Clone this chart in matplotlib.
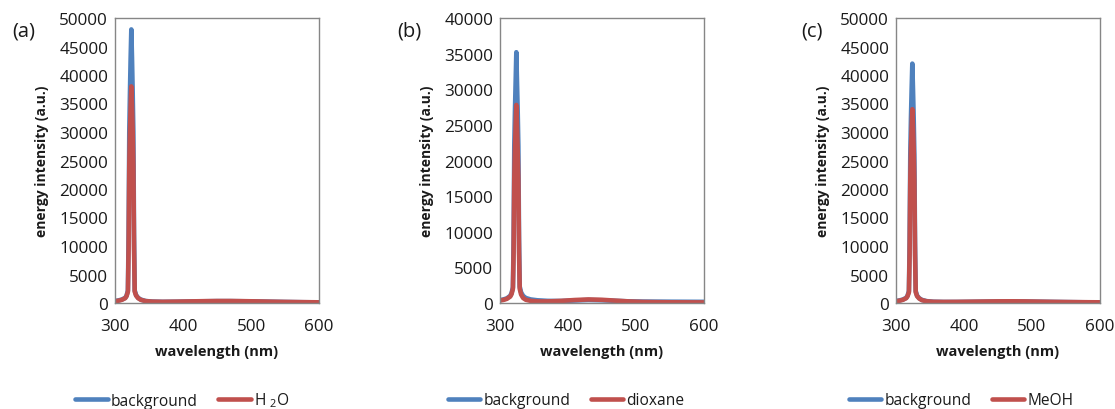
import matplotlib
matplotlib.use("Agg")
import matplotlib.pyplot as plt
from matplotlib.ticker import MultipleLocator

plt.rcParams["font.family"] = ["Open Sans", "DejaVu Sans"]
plt.rcParams["mathtext.fontset"] = "custom"
plt.rcParams["mathtext.rm"] = "Open Sans"
plt.rcParams["mathtext.it"] = "Open Sans"

# Wavelength grid (nm), shared by every spectrum
wavelength = [300, 305, 310, 315, 317, 319, 320, 321, 322, 323, 324, 325, 326,
              327, 328, 329, 331, 334, 338, 345, 355, 370, 390, 410, 430, 450,
              470, 490, 510, 530, 550, 575, 600]

# (a) background vs. water
bg_a = [350, 450, 600, 900, 1300, 2200, 12000, 30000, 37000, 43000, 48000, 43000, 37000,
        30000, 12000, 2200, 1400, 900, 600, 350, 250, 200, 220, 260, 300, 330,
        330, 300, 260, 220, 180, 140, 110]
h2o = [300, 400, 550, 850, 1200, 2000, 9500, 24000, 30000, 34500, 38000, 34500, 30000,
       24000, 9500, 2000, 1300, 850, 550, 330, 240, 210, 240, 280, 320, 350,
       350, 320, 280, 230, 190, 150, 120]

# (b) background vs. dioxane
bg_b = [400, 500, 650, 1000, 1400, 2200, 9000, 22000, 27000, 31000, 35200, 31000, 27000,
        22000, 9000, 2300, 1500, 1000, 700, 500, 380, 300, 280, 350, 420, 380,
        300, 230, 200, 190, 180, 170, 160]
dioxane = [350, 430, 580, 900, 1250, 2000, 7000, 17500, 21500, 24800, 27800, 24800, 21500,
           17500, 7000, 2000, 1200, 700, 450, 300, 220, 220, 300, 420, 500, 450,
           330, 220, 150, 120, 100, 90, 80]

# (c) background vs. methanol
bg_c = [350, 450, 600, 900, 1300, 2100, 10500, 26000, 32500, 37500, 42000, 37500, 32500,
        26000, 10500, 2100, 1300, 850, 550, 330, 220, 180, 180, 200, 230, 260,
        270, 250, 220, 190, 160, 130, 110]
meoh = [300, 400, 550, 850, 1200, 1900, 8500, 21500, 27000, 30800, 34000, 30800, 27000,
        21500, 8500, 1900, 1200, 800, 500, 300, 210, 190, 200, 230, 260, 290,
        300, 280, 240, 200, 170, 140, 120]

panel_tags = ["(a)", "(b)", "(c)"]
solvent_names = ["H $_{2}$O", "dioxane", "MeOH"]
background_series = [bg_a, bg_b, bg_c]
solvent_series = [h2o, dioxane, meoh]
y_max = [50000, 40000, 50000]

BLUE = "#4F81BD"
RED = "#C0504D"
GRID = "#868686"
TXT = "#1a1a1a"

W, H = 1115, 410
fig = plt.figure(figsize=(W / 100, H / 100), dpi=100)

ax_left = [115, 500, 896]
ax_w, ax_top, ax_bot = 204, 19, 304
tag_x = [24, 409, 812]
legend_cx = [182, 566, 961]

for i in range(3):
    ax = fig.add_axes([ax_left[i] / W, (H - ax_bot) / H, ax_w / W, (ax_bot - ax_top) / H])
    ax.plot(wavelength, background_series[i], color=BLUE, lw=3.3,
            solid_joinstyle="round", solid_capstyle="round", label="background")
    ax.plot(wavelength, solvent_series[i], color=RED, lw=3.3,
            solid_joinstyle="round", solid_capstyle="round", label=solvent_names[i])
    ax.set_xlim(300, 600)
    ax.set_ylim(0, y_max[i])
    ax.xaxis.set_major_locator(MultipleLocator(100))
    ax.yaxis.set_major_locator(MultipleLocator(5000))
    ax.tick_params(length=0, labelsize=12.3, colors=TXT)
    ax.tick_params(axis="y", pad=5)
    ax.tick_params(axis="x", pad=11)
    for s in ax.spines.values():
        s.set_color(GRID)
        s.set_linewidth(1.0)
    ax.set_xlabel("wavelength (nm)", fontsize=10.5, fontweight="bold", color=TXT, va="center")
    ax.xaxis.set_label_coords(0.5, (ax_bot - 352) / (ax_bot - ax_top))
    ax.set_ylabel("energy intensity (a.u.)", fontsize=10, fontweight="bold", color=TXT,
                  va="center")
    ax.yaxis.set_label_coords((42 - 115) / ax_w, 0.5)

    fig.text(tag_x[i] / W, 1 - 31 / H, panel_tags[i], fontsize=14.5, color=TXT,
             ha="center", va="center")

    fig.legend(*ax.get_legend_handles_labels(), loc="center",
               bbox_to_anchor=(legend_cx[i] / W, 1 - 401 / H), ncol=2, frameon=False,
               fontsize=11.2, handlelength=2.1, handletextpad=0.2, columnspacing=1.3,
               labelcolor=TXT)

fig.savefig("out.png", dpi=100)
